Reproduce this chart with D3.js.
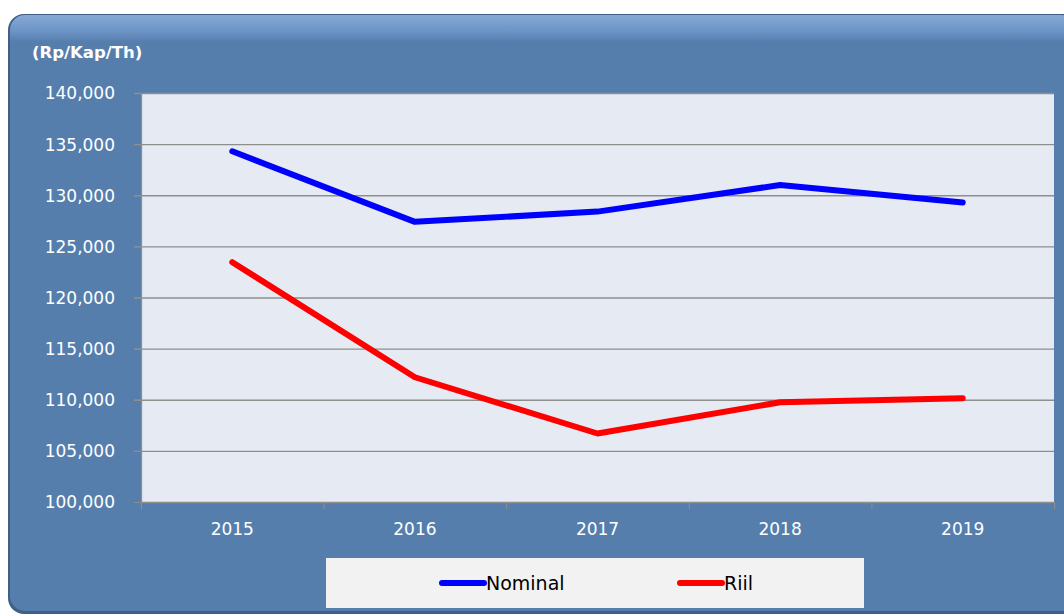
<!DOCTYPE html>
<html><head><meta charset="utf-8">
<script src="https://cdn.jsdelivr.net/npm/d3@7"></script>
<style>html,body{margin:0;padding:0;background:#fff;overflow:hidden}svg{display:block}</style>
</head><body>
<svg id="c" width="1064" height="615"></svg>
<script>
const years = ["2015","2016","2017","2018","2019"];
const nominal = [134300, 127400, 128400, 131000, 129300];
const riil = [123450, 112200, 106700, 109750, 110150];
const yTicks = [100000,105000,110000,115000,120000,125000,130000,135000,140000];
const seriesNames = ["Nominal","Riil"];
const seriesColors = ["#0000FF","#FF0000"];

const svg = d3.select("#c");
const font = "'DejaVu Sans', sans-serif";
const defs = svg.append("defs");
const lg = defs.append("linearGradient").attr("id","bev").attr("x1",0).attr("y1",0).attr("x2",0).attr("y2",1);
lg.append("stop").attr("offset","0").attr("stop-color","#86a9d6");
lg.append("stop").attr("offset","0.025").attr("stop-color","#6f96c8");
lg.append("stop").attr("offset","0.045").attr("stop-color","#557EAD");
lg.append("stop").attr("offset","1").attr("stop-color","#557EAD");

// frame shadow & body
svg.append("rect").attr("x",8).attr("y",14).attr("width",1070).attr("height",600).attr("rx",16).attr("fill","#3f5f86");
svg.append("rect").attr("x",10).attr("y",15).attr("width",1066).attr("height",596).attr("rx",15).attr("fill","url(#bev)");

const L=141,R=1054,T=93,B=502;
const x = d3.scaleBand().domain(years).range([L,R]);
const y = d3.scaleLinear().domain([100000,140000]).range([B,T]);

svg.append("rect").attr("x",L).attr("y",T).attr("width",R-L).attr("height",B-T).attr("fill","#E6EAF2");

// grid
svg.append("g").selectAll("line").data(yTicks.filter(v=>v>100000)).join("line")
  .attr("x1",L-7).attr("x2",R).attr("y1",d=>y(d)+0.5).attr("y2",d=>y(d)+0.5)
  .attr("stroke","#8e8e8e").attr("stroke-width",1.3);

// y axis
const ya = svg.append("g").attr("transform",`translate(${L},0)`)
  .call(d3.axisLeft(y).tickValues(yTicks).tickFormat(d3.format(",")).tickSize(7).tickSizeOuter(0));
ya.select(".domain").attr("stroke","#8e8e8e").attr("stroke-width",1.3);
ya.selectAll(".tick line").attr("stroke","#8e8e8e");
ya.selectAll("text").attr("fill","#fff").attr("font-family",font).attr("font-size",17).attr("x",-26).attr("dy","0.35em");

// x axis
const xa = svg.append("g").attr("transform",`translate(0,${B})`)
  .call(d3.axisBottom(x).tickSize(0).tickSizeOuter(0));
xa.select(".domain").attr("stroke","#8e8e8e").attr("stroke-width",1.3);
xa.selectAll("text").attr("fill","#fff").attr("font-family",font).attr("font-size",17).attr("dy",0).attr("y",33);
const bounds = years.map(d=>x(d)).concat([R]);
svg.append("g").selectAll("line").data(bounds).join("line")
  .attr("x1",d=>d+0.5).attr("x2",d=>d+0.5).attr("y1",B).attr("y2",B+7).attr("stroke","#8e8e8e");

// title
svg.append("text").attr("x",32).attr("y",58).text("(Rp/Kap/Th)")
  .attr("fill","#fff").attr("font-family",font).attr("font-weight","bold").attr("font-size",16.5);

// lines
const line = d3.line().x((d,i)=>x(years[i])+x.bandwidth()/2).y(d=>y(d));
[nominal,riil].forEach((s,k)=>{
  svg.append("path").attr("d",line(s)).attr("fill","none").attr("stroke",seriesColors[k])
    .attr("stroke-width",6).attr("stroke-linecap","round").attr("stroke-linejoin","round");
});

// legend
svg.append("rect").attr("x",326).attr("y",558).attr("width",538).attr("height",50).attr("fill","#F2F2F2");
const lx = [442,680];
seriesNames.forEach((n,k)=>{
  svg.append("line").attr("x1",lx[k]).attr("x2",lx[k]+42).attr("y1",583).attr("y2",583)
    .attr("stroke",seriesColors[k]).attr("stroke-width",6).attr("stroke-linecap","round");
  svg.append("text").attr("x",lx[k]+44).attr("y",590).text(n).attr("fill","#000")
    .attr("font-family",font).attr("font-size",19);
});
</script>
</body></html>
